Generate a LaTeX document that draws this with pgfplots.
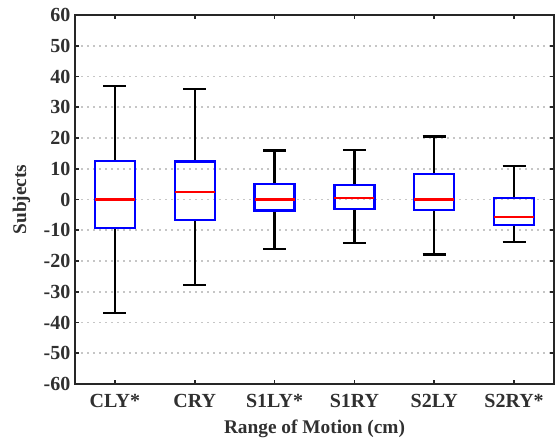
\documentclass[border=0pt]{standalone}
\usepackage{fontspec}
\setmainfont{Liberation Serif}
\usepackage{pgfplots}
\pgfplotsset{compat=1.18}
\usepgfplotslibrary{statistics}
\definecolor{txt}{HTML}{303030}
\begin{document}
\begin{tikzpicture}
\begin{axis}[
  scale only axis,
  width=359.25pt, height=276.75pt,
  xmin=0.5, xmax=6.5, ymin=-60, ymax=60,
  xtick={1,2,3,4,5,6},
  xticklabels={CLY*,CRY,S1LY*,S1RY,S2LY,S2RY*},
  ytick={-60,-50,...,60},
  ymajorgrids,
  grid style={gray!45, line width=1.3pt, dash pattern=on 1.5pt off 3pt},
  axis line style={black!85, line width=1.8pt},
  major tick length=3pt,
  tick style={black!85, line width=1.3pt},
  tick align=inside,
  xtick pos=both, ytick pos=both,
  tick label style={text=txt, font=\fontsize{15}{17}\selectfont\bfseries},
  xticklabel style={yshift=-4pt},
  label style={text=txt, font=\fontsize{14.5}{16}\selectfont\bfseries},
  /pgf/number format/assume math mode=true,
  xlabel={Range of Motion (cm)},
  ylabel={Subjects},
  xlabel style={at={(axis description cs:0.5,-0.1328)}, anchor=base},
  ylabel style={at={(axis description cs:-0.1117,0.5)}, anchor=center, rotate=0},
  boxplot/draw direction=y,
  boxplot/box extend=0.5,
  boxplot/whisker extend=0.29,
  boxplot/every box/.style={draw=blue, line width=1.7pt},
  boxplot/every whisker/.style={draw=black, line width=1.7pt},
  boxplot/every median/.style={draw=red, line width=1.7pt},
]
\addplot[boxplot prepared={draw position=1, lower whisker=-37, lower quartile=-9.2, median=0, upper quartile=12.5, upper whisker=36.9}] coordinates {};
\addplot[boxplot prepared={draw position=2, lower whisker=-27.8, lower quartile=-6.6, median=2.4, upper quartile=12.4, upper whisker=36}] coordinates {};
\addplot[boxplot prepared={draw position=3, lower whisker=-16, lower quartile=-3.6, median=0, upper quartile=5.1, upper whisker=15.9}] coordinates {};
\addplot[boxplot prepared={draw position=4, lower whisker=-14.2, lower quartile=-3.0, median=0.5, upper quartile=4.8, upper whisker=16}] coordinates {};
\addplot[boxplot prepared={draw position=5, lower whisker=-17.9, lower quartile=-3.4, median=0, upper quartile=8.3, upper whisker=20.5}] coordinates {};
\addplot[boxplot prepared={draw position=6, lower whisker=-13.9, lower quartile=-8.4, median=-5.7, upper quartile=0.4, upper whisker=10.8}] coordinates {};
\coordinate (ll) at (rel axis cs:0,0);
\coordinate (ur) at (rel axis cs:1,1);
\end{axis}
\path (ll) ++(-56.25pt,-42.75pt) coordinate (bbll);
\path (ur) ++(3pt,11.25pt) coordinate (bbur);
\pgfresetboundingbox
\useasboundingbox (bbll) rectangle (bbur);
\end{tikzpicture}
\end{document}
